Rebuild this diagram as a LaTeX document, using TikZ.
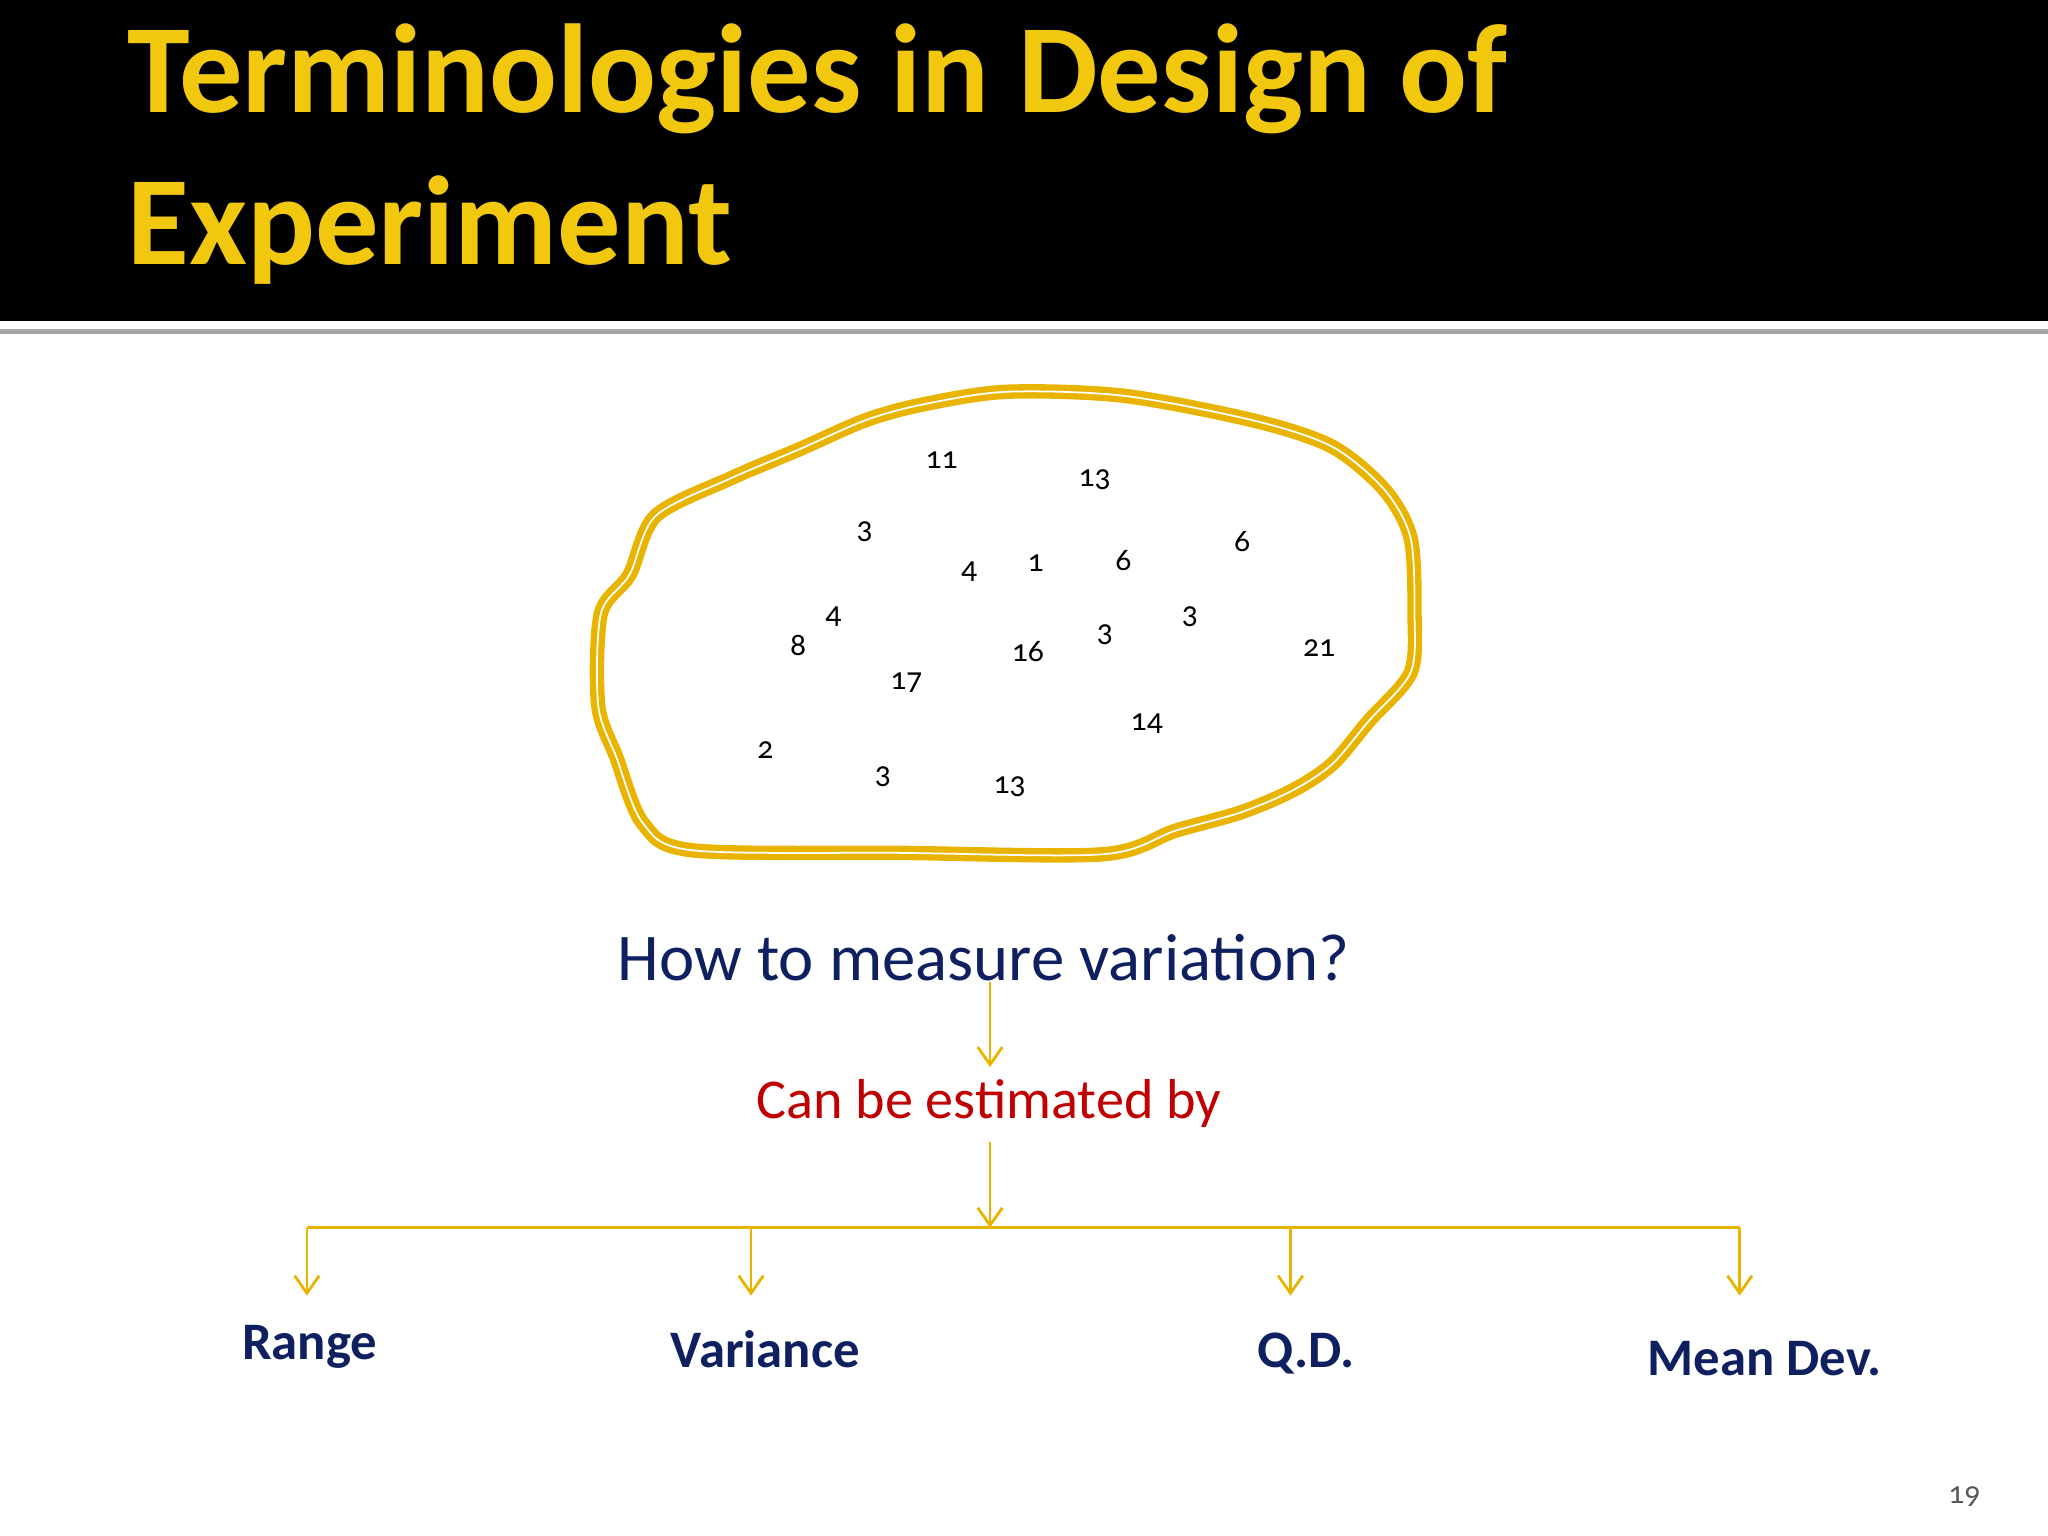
\documentclass[tikz,border=0pt]{standalone}
\usepackage{fontspec}
\setmainfont{Carlito}[Numbers=OldStyle]
\usetikzlibrary{arrows.meta}
\definecolor{ttl}{HTML}{F2C80F}
\definecolor{blob}{HTML}{E8B400}
\definecolor{navy}{HTML}{0F2060}
\definecolor{redt}{HTML}{C00000}
\tikzset{num/.style={font=\fontsize{9}{9}\selectfont},
 arr/.style={draw=blob,line width=0.8pt,-{Straight Barb[length=5pt,width=7pt]}},
 lab/.style={font=\fontsize{15}{15}\selectfont\bfseries,text=navy}}
\begin{document}
\begin{tikzpicture}[x=0.01306cm,y=-0.01306cm]
\useasboundingbox (0,0) rectangle (1568,1176);
\fill[black] (0,0) rectangle (1568,246);
\draw[gray!70,line width=1.5pt] (0,254) -- (1568,254);
\node[anchor=west,text=ttl,font=\fontsize{36}{43}\selectfont\bfseries,align=left] (title) at (88,118) {Terminologies in Design of\\Experiment};
\draw[blob,line width=1.8pt,double=white,double distance=0.5pt] plot[smooth cycle,tension=0.5] coordinates {(770,300) (860,303) (960,322) (1020,342) (1060,375) (1080,412) (1083,470) (1080,515) (1048,552) (1020,585) (990,605) (950,622) (900,636) (845,654) (690,653) (530,651) (492,630) (472,580) (458,540) (460,470) (482,440) (502,395) (560,366) (612,344) (662,322) (705,310)};
\foreach \t/\x/\y [count=\i] in {11/721/352,13/838/367,3/662/407,6/951/415,4/742/438,1/793/431,6/860/429,4/638/472,8/611/494,3/846/486,3/911/472,16/787/499,21/1010/496,17/694/523,14/878/554,2/586/574,3/676/595,13/773/602}
  \node[num] (n\i) at (\x,\y) {\t};
\node[font=\fontsize{19}{19}\selectfont,text=navy] (q) at (753,733) {How to measure variation?};
\node[font=\fontsize{16}{16}\selectfont,text=redt] (c) at (757,845) {Can be estimated by};
\coordinate (t1) at (758,752); \coordinate (h1) at (758,817);
\coordinate (t2) at (758,874); \coordinate (h2) at (758,940);
\draw[arr] (t1) -- (h1);
\draw[arr] (t2) -- (h2);
\coordinate (bl) at (235,940); \coordinate (br) at (1332,940);
\draw[blob,line width=0.8pt] (bl) -- (br);
\foreach \x/\n in {235/a,575/b,988/c,1332/d}{
  \coordinate (s\n) at (\x,940); \coordinate (e\n) at (\x,992);
  \draw[arr] (s\n) -- (e\n);}
\node[lab] (r) at (237,1031) {Range};
\node[lab] (v) at (586,1033) {Variance};
\node[lab] (qd) at (1000,1036) {Q.D.};
\node[lab] (m) at (1351,1040) {Mean Dev.};
\node[font=\fontsize{9}{9}\selectfont,text=gray!70!black] (pg) at (1504,1146) {19};
\end{tikzpicture}
\end{document}
